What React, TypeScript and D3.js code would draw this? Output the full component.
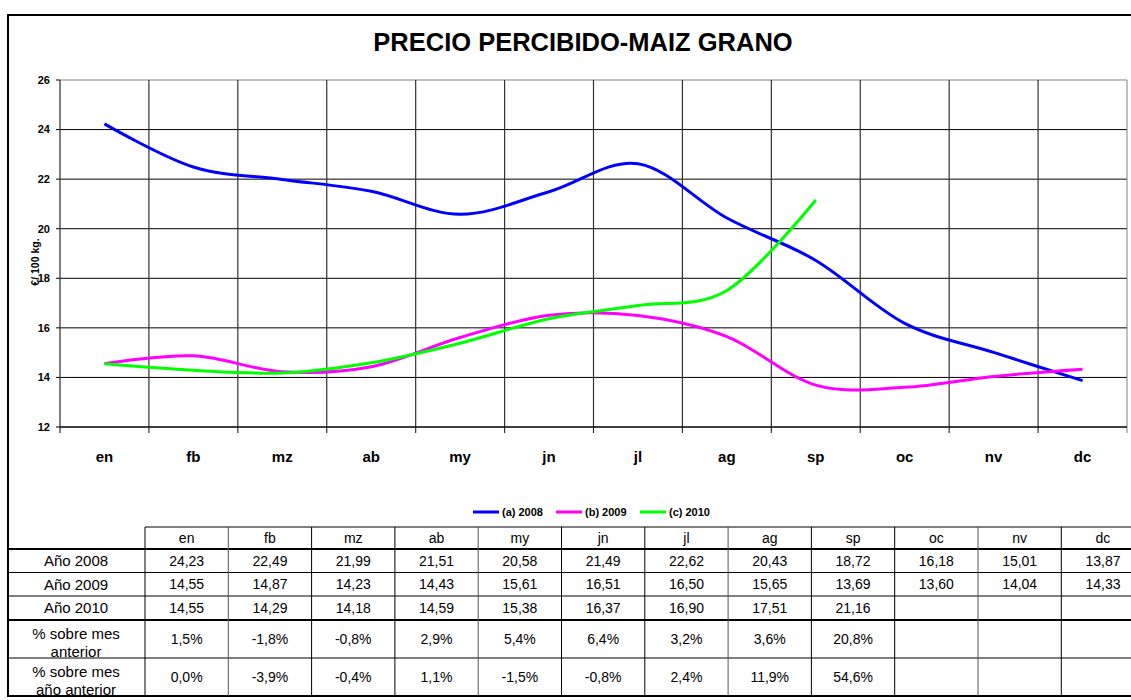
import React from 'react';
import * as d3 from 'd3';

// months (chart categories + table header)
const months = ['en', 'fb', 'mz', 'ab', 'my', 'jn', 'jl', 'ag', 'sp', 'oc', 'nv', 'dc'];

// €/100 kg per month
const y2008 = [24.23, 22.49, 21.99, 21.51, 20.58, 21.49, 22.62, 20.43, 18.72, 16.18, 15.01, 13.87];
const y2009 = [14.55, 14.87, 14.23, 14.43, 15.61, 16.51, 16.50, 15.65, 13.69, 13.60, 14.04, 14.33];
const y2010 = [14.55, 14.29, 14.18, 14.59, 15.38, 16.37, 16.90, 17.51, 21.16];

// percentage rows of the table
const pctPrevMonth = [1.5, -1.8, -0.8, 2.9, 5.4, 6.4, 3.2, 3.6, 20.8];
const pctPrevYear = [0.0, -3.9, -0.4, 1.1, -1.5, -0.8, 2.4, 11.9, 54.6];

const yTicks = [12, 14, 16, 18, 20, 22, 24, 26];

const series = [
  { name: '(a) 2008', color: '#0000ff', values: y2008 },
  { name: '(b) 2009', color: '#ff00ff', values: y2009 },
  { name: '(c) 2010', color: '#00ff00', values: y2010 },
];

const W = 1131;
const H = 700;
const FONT = '"Liberation Sans", Arial, sans-serif';

const comma = (s: string) => s.replace('.', ',');
const fmtNum = (v: number) => comma(d3.format('.2f')(v));
// plain hyphen for negatives, like the sheet
const fmtPct = (v: number) => (v < 0 ? '-' : '') + comma(Math.abs(v).toFixed(1)) + '%';

export default function App() {
  const plot = { left: 60, right: 1127, top: 80, bottom: 427 };

  const x = d3.scaleBand<string>().domain(months).range([plot.left, plot.right]);
  const y = d3.scaleLinear().domain([12, 26]).range([plot.bottom, plot.top]);

  const line = d3.line<number>()
    .x((d, i) => (x(months[i]) as number) + x.bandwidth() / 2)
    .y(d => y(d))
    .curve(d3.curveCardinal.tension(0));

  // table
  const tx = d3.scaleBand<string>().domain(months).range([145, 145 + 12 * 83.3]);
  const tLeft = 8;
  const labelCx = 76;
  const rowsY = [527, 549, 572.5, 596, 620, 658, 696];
  const dataRows = [
    { label: ['Año 2008'], cells: y2008.map(fmtNum) },
    { label: ['Año 2009'], cells: y2009.map(fmtNum) },
    { label: ['Año 2010'], cells: y2010.map(fmtNum) },
    { label: ['% sobre mes', 'anterior'], cells: pctPrevMonth.map(fmtPct) },
    { label: ['% sobre mes', 'año anterior'], cells: pctPrevYear.map(fmtPct) },
  ];
  const tRight = 145 + 12 * 83.3;

  const legendItems = [
    { x: 473, ...series[0] },
    { x: 556, ...series[1] },
    { x: 640, ...series[2] },
  ];

  return (
    <svg width={W} height={H} style={{ position: 'absolute', left: 0, top: 0, background: '#fff' }}
      fontFamily={FONT}>
      <rect x={0} y={0} width={W} height={H} fill="#fff" />
      {/* outer frame */}
      <line x1={8} x2={W} y1={15} y2={15} stroke="#000" strokeWidth={2} />
      <line x1={8} x2={8} y1={14} y2={697} stroke="#000" strokeWidth={2} />

      <text x={583} y={51} textAnchor="middle" fontSize={25.5} fontWeight="bold">
        PRECIO PERCIBIDO-MAIZ GRANO
      </text>

      {/* gridlines */}
      {yTicks.map(t => (
        <line key={'h' + t} x1={plot.left} x2={plot.right} y1={y(t)} y2={y(t)}
          stroke={t === 26 ? '#808080' : '#000'} strokeWidth={1} />
      ))}
      {months.map((m, i) => i > 0 && (
        <line key={'v' + m} x1={x(m)} x2={x(m)} y1={plot.top} y2={plot.bottom + 6}
          stroke="#333" strokeWidth={1.2} />
      ))}
      <line x1={plot.right} x2={plot.right} y1={plot.top} y2={plot.bottom + 6} stroke="#808080" />
      <line x1={plot.left} x2={plot.left} y1={plot.top} y2={plot.bottom + 6} stroke="#555" strokeWidth={1.5} />
      <line x1={plot.left} x2={plot.right} y1={plot.bottom} y2={plot.bottom} stroke="#000" />

      {/* y axis */}
      {yTicks.map(t => (
        <g key={'yt' + t}>
          <line x1={56} x2={plot.left} y1={y(t)} y2={y(t)} stroke="#000" />
          <text x={50} y={y(t)} dy="0.35em" textAnchor="end" fontSize={11} fontWeight="bold">{t}</text>
        </g>
      ))}
      <text transform="translate(39,262) rotate(-90)" textAnchor="middle" fontSize={10.5} fontWeight="bold">
        €/ 100 kg.
      </text>

      {/* x labels */}
      {months.map(m => (
        <text key={'xl' + m} x={(x(m) as number) + x.bandwidth() / 2} y={462} textAnchor="middle"
          fontSize={15} fontWeight="bold">{m}</text>
      ))}

      {/* series */}
      {series.map(s => (
        <path key={s.name} d={line(s.values) as string} fill="none" stroke={s.color} strokeWidth={3} />
      ))}

      {/* legend */}
      {legendItems.map(l => (
        <g key={'lg' + l.name}>
          <line x1={l.x} x2={l.x + 26} y1={512} y2={512} stroke={l.color} strokeWidth={3} />
          <text x={l.x + 29} y={512} dy="0.35em" fontSize={11} fontWeight="bold">{l.name}</text>
        </g>
      ))}

      {/* table */}
      <g fontSize={14}>
        {months.map(m => (
          <text key={'th' + m} x={(tx(m) as number) + tx.bandwidth() / 2} y={(rowsY[0] + rowsY[1]) / 2}
            dy="0.35em" textAnchor="middle">{m}</text>
        ))}
        {dataRows.map((r, ri) => {
          const top = rowsY[ri + 1];
          const bot = rowsY[ri + 2];
          const cy = (top + bot) / 2;
          return (
            <g key={'row' + ri}>
              {r.label.length === 1 ? (
                <text x={labelCx} y={cy} dy="0.35em" textAnchor="middle" fontSize={15}>{r.label[0]}</text>
              ) : (
                <>
                  <text x={labelCx} y={cy} textAnchor="middle" fontSize={15}>{r.label[0]}</text>
                  <text x={labelCx} y={cy + 17.5} textAnchor="middle" fontSize={15}>{r.label[1]}</text>
                </>
              )}
              {r.cells.map((c, ci) => (
                <text key={ci} x={(tx(months[ci]) as number) + tx.bandwidth() / 2} y={cy} dy="0.35em"
                  textAnchor="middle">{c}</text>
              ))}
            </g>
          );
        })}
        {/* white strip so the wrapped labels get cut at the row rules */}
        {/* horizontal rules */}
        <line x1={145} x2={tRight} y1={rowsY[0]} y2={rowsY[0]} stroke="#000" strokeWidth={1} />
        {rowsY.slice(1).map((ry, i) => (
          <line key={'hr' + i} x1={tLeft} x2={tRight} y1={ry} y2={ry} stroke="#000"
            strokeWidth={i === 0 || i === 3 || i === 5 ? 2 : 1} />
        ))}
        <rect x={0} y={697} width={W} height={3} fill="#fff" />
        {/* vertical rules */}
        {months.map((m, i) => (
          <line key={'vr' + m} x1={tx(m)} x2={tx(m)} y1={rowsY[0]} y2={rowsY[6]}
            stroke={i % 3 === 1 ? '#555' : '#000'} strokeWidth={1} />
        ))}
        <line x1={tRight} x2={tRight} y1={rowsY[0]} y2={rowsY[6]} stroke="#000" />
      </g>
    </svg>
  );
}
